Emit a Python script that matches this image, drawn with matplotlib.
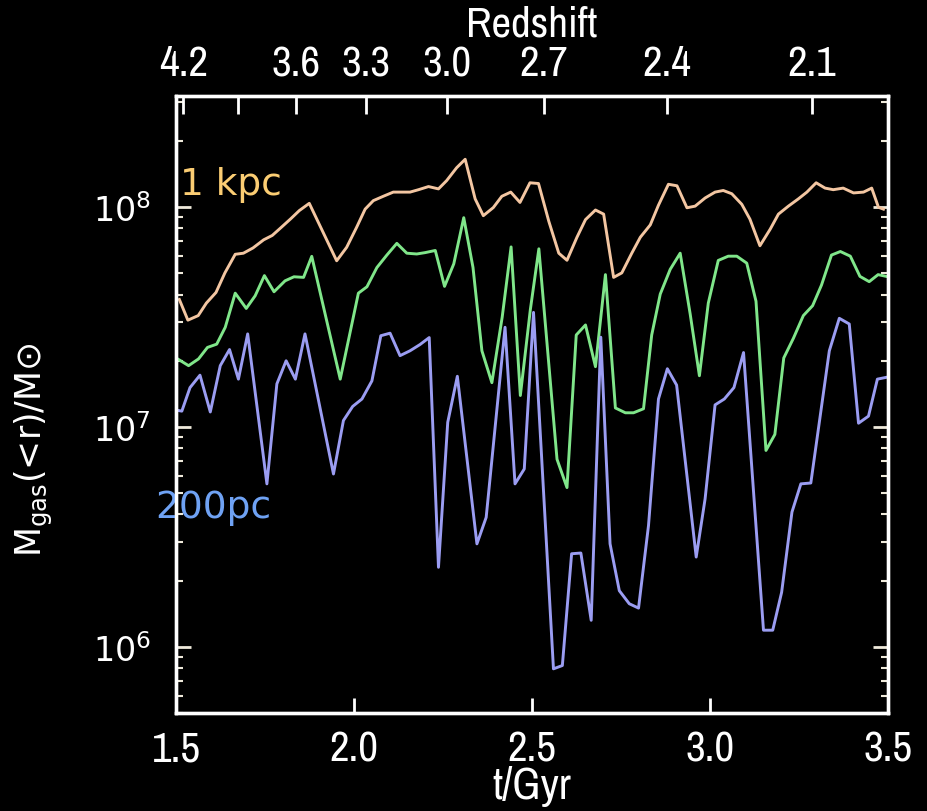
import matplotlib
matplotlib.use("Agg")
import matplotlib.pyplot as plt
from matplotlib import font_manager
from matplotlib.ticker import LogLocator, NullFormatter

# gas mass enclosed within 1 kpc (t in Gyr, mass in 1e7 Msun)
t_1kpc = [1.509, 1.533, 1.562, 1.585, 1.612, 1.637, 1.666, 1.689, 1.716, 1.746,
          1.770, 1.794, 1.822, 1.846, 1.874, 1.951, 1.979, 2.007, 2.031, 2.054,
          2.082, 2.110, 2.134, 2.157, 2.181, 2.209, 2.237, 2.260, 2.288, 2.312,
          2.340, 2.363, 2.391, 2.415, 2.440, 2.466, 2.494, 2.518, 2.547, 2.575,
          2.598, 2.626, 2.650, 2.678, 2.701, 2.729, 2.752, 2.780, 2.804, 2.832,
          2.855, 2.883, 2.907, 2.935, 2.958, 2.986, 3.014, 3.037, 3.061, 3.089,
          3.112, 3.140, 3.169, 3.192, 3.220, 3.248, 3.272, 3.298, 3.323, 3.346,
          3.374, 3.403, 3.431, 3.454, 3.473, 3.487]
m_1kpc = [3.80, 3.06, 3.21, 3.66, 4.09, 5.02, 6.10, 6.17, 6.52, 7.10,
          7.43, 8.05, 8.85, 9.64, 10.4, 5.70, 6.56, 8.09, 9.79, 10.7,
          11.2, 11.7, 11.7, 11.7, 12.0, 12.4, 12.1, 13.2, 15.1, 16.5,
          10.9, 9.14, 9.95, 11.2, 11.7, 10.5, 12.9, 12.8, 8.61, 6.17,
          5.73, 7.29, 8.77, 9.70, 9.29, 4.79, 5.02, 6.17, 7.29, 8.30,
          10.2, 12.7, 12.5, 9.93, 10.1, 11.0, 11.7, 11.9, 11.5, 10.3,
          8.81, 6.67, 7.94, 9.29, 10.1, 10.9, 11.7, 12.9, 12.2, 12.0,
          12.2, 11.6, 11.7, 12.2, 9.98, 9.79]

# intermediate radius
t_mid = [1.504, 1.535, 1.563, 1.588, 1.614, 1.638, 1.666, 1.697, 1.722, 1.748,
         1.775, 1.806, 1.831, 1.858, 1.881, 1.961, 2.012, 2.036, 2.064, 2.092,
         2.120, 2.148, 2.176, 2.200, 2.228, 2.254, 2.280, 2.308, 2.334, 2.359,
         2.387, 2.416, 2.441, 2.467, 2.495, 2.519, 2.570, 2.598, 2.624, 2.650,
         2.678, 2.706, 2.734, 2.762, 2.785, 2.813, 2.836, 2.860, 2.888, 2.916,
         2.944, 2.970, 2.995, 3.023, 3.051, 3.075, 3.103, 3.129, 3.157, 3.182,
         3.207, 3.234, 3.262, 3.288, 3.313, 3.341, 3.366, 3.394, 3.421, 3.447,
         3.472, 3.495]
m_mid = [2.04, 1.90, 2.04, 2.30, 2.38, 2.84, 4.06, 3.46, 3.95, 4.88,
         4.12, 4.62, 4.82, 4.79, 5.97, 1.65, 4.06, 4.34, 5.31, 6.05,
         6.84, 6.17, 6.12, 6.21, 6.35, 4.36, 5.52, 8.95, 5.31, 2.22,
         1.59, 3.16, 6.59, 1.39, 3.41, 6.46, 0.713, 0.530, 2.62, 2.91,
         1.88, 4.93, 1.22, 1.16, 1.16, 1.21, 2.62, 4.02, 5.21, 6.17,
         3.27, 1.71, 3.66, 5.72, 5.98, 5.98, 5.56, 3.73, 0.782, 0.925,
         2.06, 2.53, 3.21, 3.56, 4.42, 6.05, 6.28, 5.98, 4.84, 4.58,
         4.93, 4.84]

# gas mass enclosed within 200 pc
t_200pc = [1.504, 1.516, 1.539, 1.567, 1.596, 1.624, 1.650, 1.675, 1.701, 1.755,
           1.783, 1.809, 1.835, 1.862, 1.942, 1.970, 1.996, 2.022, 2.050, 2.075,
           2.101, 2.129, 2.157, 2.185, 2.211, 2.237, 2.263, 2.290, 2.345, 2.371,
           2.424, 2.452, 2.478, 2.504, 2.560, 2.585, 2.611, 2.637, 2.666, 2.693,
           2.719, 2.745, 2.773, 2.799, 2.827, 2.855, 2.880, 2.906, 2.961, 2.986,
           3.014, 3.040, 3.067, 3.094, 3.150, 3.176, 3.201, 3.230, 3.255, 3.283,
           3.335, 3.363, 3.391, 3.417, 3.445, 3.470, 3.494]
m_200pc = [1.19, 1.18, 1.51, 1.72, 1.17, 1.90, 2.25, 1.65, 2.65, 0.551,
           1.57, 2.00, 1.65, 2.65, 0.611, 1.07, 1.24, 1.34, 1.62, 2.60,
           2.67, 2.11, 2.22, 2.37, 2.55, 0.230, 1.05, 1.70, 0.294, 0.388,
           2.84, 0.551, 0.644, 3.32, 0.0794, 0.0822, 0.265, 0.267, 0.132, 2.56,
           0.294, 0.180, 0.157, 0.150, 0.356, 1.34, 1.84, 1.55, 0.256, 0.471,
           1.26, 1.34, 1.51, 2.18, 0.119, 0.119, 0.177, 0.410, 0.551, 0.556,
           2.22, 3.12, 2.94, 1.04, 1.12, 1.65, 1.68]

# redshift ticks for the top axis and the cosmic time they fall at
z_ticks = ["4.2", "", "3.6", "3.3", "3.0", "2.7", "2.4", "2.1"]
t_at_z = [1.520, 1.674, 1.837, 2.034, 2.261, 2.534, 2.879, 3.287]

x_ticks = [1.5, 2.0, 2.5, 3.0, 3.5]

# axis numbers use a narrow face when one is installed
narrow = [f.name for f in font_manager.fontManager.ttflist
          if "Narrow" in f.name or "Condensed" in f.name]
if narrow:
    FAM = [narrow[0], "DejaVu Sans"]
    TICK_SIZE, LABEL_SIZE = 31, 31
else:
    FAM = ["DejaVu Sans"]
    TICK_SIZE, LABEL_SIZE = 23, 24

fig = plt.figure(figsize=(9.27, 8.12), dpi=100, facecolor="black")
ax = fig.add_axes([0.190, 0.1207, 0.768, 0.7598])
ax.set_facecolor("black")

ax.plot(t_1kpc, [m * 1e7 for m in m_1kpc], color="#f3c6a2", lw=2.1)
ax.plot(t_mid, [m * 1e7 for m in m_mid], color="#80e68a", lw=2.1)
ax.plot(t_200pc, [m * 1e7 for m in m_200pc], color="#9b9df2", lw=2.1)

ax.set_yscale("log")
ax.set_ylim(5e5, 3.2e8)
ax.set_xlim(1.5, 3.5)

ax.set_xticks(x_ticks)
ax.set_xticklabels([f"{v:.1f}" for v in x_ticks], family=FAM, size=TICK_SIZE)
ax.set_yticks([1e6, 1e7, 1e8])
ax.set_yticklabels([r"$10^6$", r"$10^7$", r"$10^8$"])
ax.yaxis.set_minor_locator(LogLocator(base=10, subs=range(2, 10)))
ax.yaxis.set_minor_formatter(NullFormatter())

ax.tick_params(axis="x", which="both", direction="in", length=11, width=2,
               color="white", labelcolor="white", pad=12, top=False)
ax.tick_params(axis="y", which="major", direction="in", length=11, width=2,
               color="#efeadb", labelcolor="white", labelsize=24, pad=18,
               left=True, right=True)
ax.tick_params(axis="y", which="minor", direction="in", length=5, width=1.5,
               color="#efeadb", left=True, right=True)

ax.set_xlabel("t/Gyr", color="white", labelpad=-2, family=FAM,
              size=LABEL_SIZE + 1)
fig.text(0.037, 0.446, "M$_{\\rm gas}$(<r)/M\u2299", color="white",
         fontsize=25, rotation=90, ha="center", va="center")

# redshift axis on top
axt = ax.twiny()
axt.set_xlim(ax.get_xlim())
axt.set_xticks(t_at_z)
axt.set_xticklabels(z_ticks, family=FAM, size=TICK_SIZE)
axt.tick_params(axis="x", direction="in", length=13, width=2, color="white",
                labelcolor="white", pad=10)
axt.set_xlabel("Redshift", color="white", labelpad=6, family=FAM,
               size=LABEL_SIZE)

for a in (ax, axt):
    for sp in a.spines.values():
        sp.set_color("white")
        sp.set_linewidth(2.4)

ax.text(1.511, 1.27e8, "1 kpc", color="#fbcd73", fontsize=27,
        ha="left", va="center")
ax.text(1.441, 4.33e6, "200pc", color="#6fa2f4", fontsize=27,
        ha="left", va="center", clip_on=False)

fig.savefig("out.png", dpi=100, facecolor="black")
